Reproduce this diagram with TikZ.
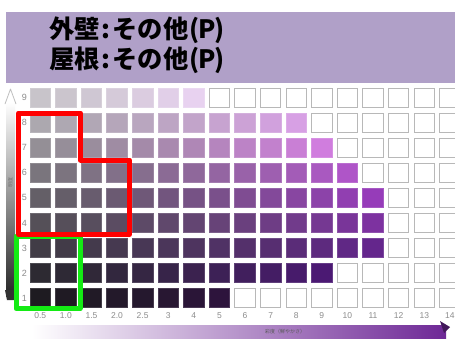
\documentclass[tikz,border=0pt]{standalone}
\usepackage{fontspec}
\newfontfamily\jp{Noto Sans CJK JP}
\setsansfont{Liberation Sans}
\newcommand\hwbox[1]{\makebox[0.5em][c]{#1}}
\definecolor{hdr}{RGB}{176,160,200}
\definecolor{redline}{RGB}{255,0,0}
\definecolor{greenline}{RGB}{20,235,20}
\definecolor{bpurple}{RGB}{110,40,150}
\definecolor{blav}{RGB}{200,182,215}
\definecolor{g9}{RGB}{200,196,202}\definecolor{s9}{RGB}{232,210,240}
\definecolor{g8}{RGB}{172,168,175}\definecolor{s8}{RGB}{215,160,228}
\definecolor{g7}{RGB}{148,143,150}\definecolor{s7}{RGB}{208,125,222}
\definecolor{g6}{RGB}{122,117,125}\definecolor{s6}{RGB}{175,85,200}
\definecolor{g5}{RGB}{100,95,103}\definecolor{s5}{RGB}{150,60,185}
\definecolor{g4}{RGB}{85,80,88}\definecolor{s4}{RGB}{125,50,160}
\definecolor{g3}{RGB}{65,60,70}\definecolor{s3}{RGB}{100,38,140}
\definecolor{g2}{RGB}{45,42,50}\definecolor{s2}{RGB}{75,25,115}
\definecolor{g1}{RGB}{30,27,33}\definecolor{s1}{RGB}{45,20,60}
\begin{document}
\begin{tikzpicture}[x=1pt,y=-1pt,
  hdrtext/.style={anchor=base west,inner sep=0pt,font=\jp\bfseries\fontsize{25.3}{28}\selectfont},
  rowlab/.style={inner sep=0pt,text=black!45,font=\sffamily\fontsize{9}{9}\selectfont},
  collab/.style={inner sep=0pt,text=black!45,font=\sffamily\fontsize{8.5}{9}\selectfont},
  outline/.style={line width=5pt,line join=round}]
\useasboundingbox (0,0) rectangle (455,338);
\fill[white] (0,0) rectangle (455,338);
% header
\fill[hdr] (6,12) rectangle (455,82.5);
\node[hdrtext] (t1) at (49,38.5) {外壁\hwbox{:}その他\hwbox{(}\hwbox{P}\hwbox{)}};
\node[hdrtext] (t2) at (49,68) {屋根\hwbox{:}その他\hwbox{(}\hwbox{P}\hwbox{)}};
% left axis
\shade[top color=white,middle color=black!22,bottom color=black!85] (6,102) rectangle (15,296);
\draw[black!25,line width=0.8pt,line join=round] (5,104) -- (10.5,89) -- (16,104);
\fill[black!80] (5,290) -- (16,290) -- (14,300) -- (7,300) -- cycle;
\node[rotate=90,inner sep=0pt,text=black!55,font=\jp\fontsize{5}{5}\selectfont] (vlab) at (10.5,182) {明度};
% bottom axis
\shade[left color=white,middle color=blav,right color=bpurple] (32,325) rectangle (446,338);
\fill[bpurple!60!black] (440,321) -- (450,327) -- (444,333) -- cycle;
\node[inner sep=0pt,text=black!65,font=\jp\fontsize{5}{5}\selectfont] (hlab) at (285,332) {彩度（鮮やかさ）};
% squares
\foreach \r/\n in {9/7,8/11,7/12,6/13,5/14,4/14,3/14,2/12,1/8}{
  \foreach \c in {1,...,17}{
    \pgfmathsetmacro\xl{30+25.6*(\c-1)}
    \pgfmathsetmacro\yt{88+25.1*(9-\r)}
    \ifnum\c>\n
      \filldraw[fill=white,draw=black!28,line width=1pt] (\xl,\yt) rectangle ++(20.5,19);
    \else
      \pgfmathtruncatemacro\p{100*((\c-1)/(\n-1))^1.3}
      \colorlet{cc}{s\r!\p!g\r}
      \filldraw[fill=cc,draw=cc!85!white,line width=0.8pt] (\xl,\yt) rectangle ++(20.5,19);
    \fi
  }
  \node[rowlab] (r\r) at (24.5,{88+25.1*(9-\r)+9.5}) {\r};
}
% column labels
\foreach \lab [count=\c] in {0.5,1.0,1.5,2.0,2.5,3,4,5,6,7,8,9,10,11,12,13,14}{
  \node[collab] (c\c) at ({30+25.6*(\c-1)+10.25},316) {\lab};
}
% outlines
\draw[outline,greenline] (16,236) rectangle (80,308.5);
\draw[outline,redline] (18.5,113) -- (80.5,113) -- (80.5,160) -- (129.5,160) -- (129.5,234.5) -- (18.5,234.5) -- cycle;
\end{tikzpicture}
\end{document}
